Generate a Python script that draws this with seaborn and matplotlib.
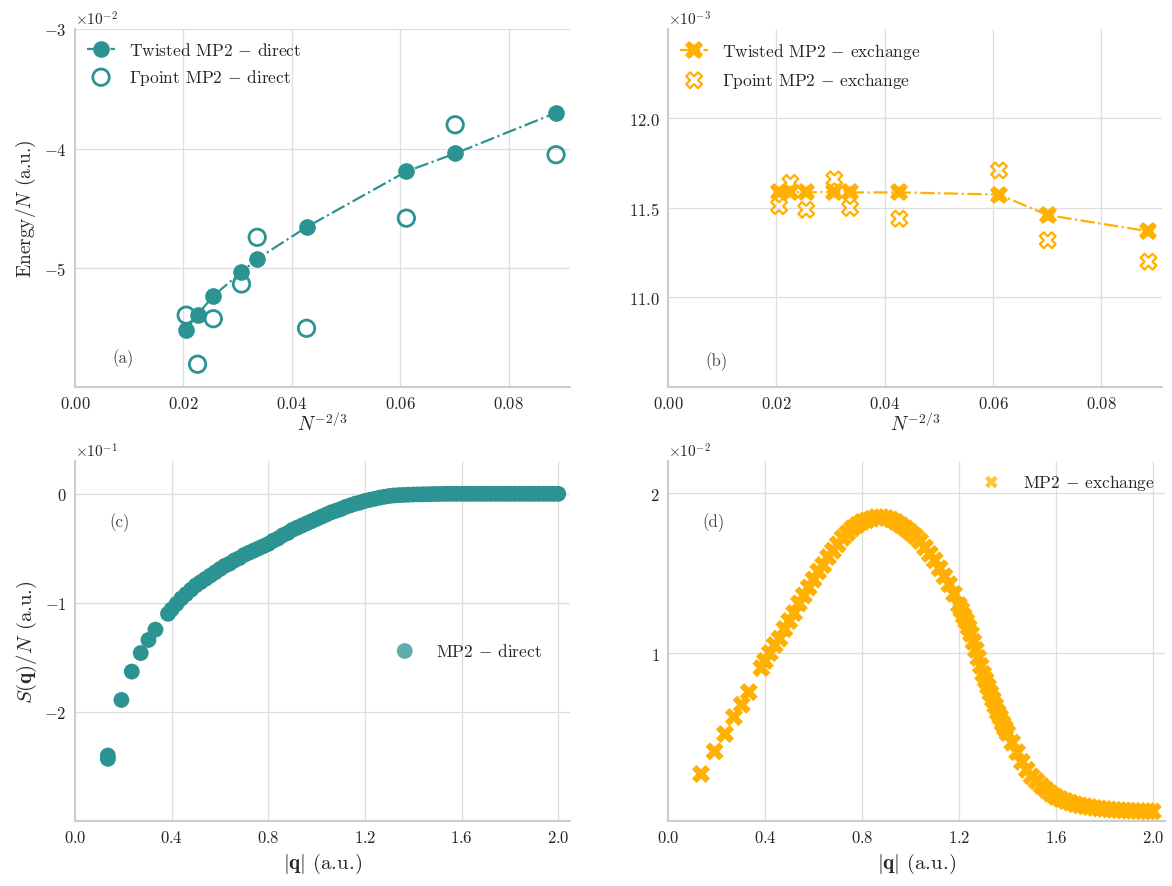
import numpy as np
import pandas as pd
import matplotlib
matplotlib.use("Agg")
import matplotlib.pyplot as plt
import seaborn as sns
from matplotlib.ticker import ScalarFormatter

# --- (a)/(b): N^{-2/3} vs energy per electron ---
n_inv = [0.0205, 0.0226, 0.0255, 0.0307, 0.0336, 0.0427, 0.0611, 0.0701, 0.0887]

# x 1e-2
twist_direct = [-5.51, -5.385, -5.23, -5.03, -4.92, -4.655, -4.19, -4.04, -3.70]
gamma_direct = [-5.39, -5.80, -5.42, -5.13, -4.74, -5.50, -4.58, -3.80, -4.05]

# x 1e-3
twist_exch = [11.587, 11.59, 11.587, 11.59, 11.587, 11.587, 11.575, 11.46, 11.37]
gamma_exch = [11.51, 11.64, 11.49, 11.66, 11.50, 11.44, 11.71, 11.32, 11.20]

# --- (c): S(q)/N direct, x 1e-1 ---
q_direct = [0.136, 0.136, 0.192, 0.235, 0.272, 0.304, 0.333, 0.385,
            0.40, 0.42, 0.44, 0.46, 0.48, 0.50, 0.52, 0.54, 0.56, 0.58,
            0.60, 0.62, 0.64, 0.66, 0.68, 0.70, 0.72, 0.74, 0.76, 0.78,
            0.80, 0.82, 0.84, 0.86, 0.88, 0.90, 0.92, 0.94, 0.96, 0.98,
            1.00, 1.02, 1.04, 1.06, 1.08, 1.10, 1.12, 1.14, 1.16, 1.18,
            1.20, 1.22, 1.24, 1.26, 1.28, 1.30, 1.32, 1.34, 1.36, 1.38,
            1.40, 1.42, 1.44, 1.46, 1.48, 1.50, 1.52, 1.54, 1.56, 1.58,
            1.60, 1.62, 1.64, 1.66, 1.68, 1.70, 1.72, 1.74, 1.76, 1.78,
            1.80, 1.82, 1.84, 1.86, 1.88, 1.90, 1.92, 1.94, 1.96, 1.98, 2.00]
sq_direct = [-2.43, -2.40, -1.89, -1.63, -1.46, -1.34, -1.245, -1.10,
             -1.06, -1.01, -0.96, -0.92, -0.88, -0.84, -0.81, -0.78, -0.75, -0.72,
             -0.69, -0.66, -0.64, -0.61, -0.59, -0.56, -0.54, -0.52, -0.50, -0.48,
             -0.46, -0.43, -0.41, -0.38, -0.36, -0.33, -0.31, -0.29, -0.27, -0.25,
             -0.23, -0.21, -0.19, -0.17, -0.155, -0.14, -0.12, -0.105, -0.09, -0.08,
             -0.065, -0.055, -0.045, -0.035, -0.027, -0.02, -0.015, -0.012, -0.01, -0.008,
             -0.006, -0.005, -0.004, -0.003, -0.002, -0.0015, -0.001, 0.0, 0.0, 0.0,
             0.0, 0.0, 0.0, 0.0, 0.0, 0.0, 0.0, 0.0, 0.0, 0.0,
             0.0, 0.0, 0.0, 0.0, 0.0, 0.0, 0.0, 0.0, 0.0, 0.0, 0.0]

# --- (d): S(q)/N exchange, x 1e-2 ---
q_exch = [0.136, 0.192, 0.235, 0.272, 0.304, 0.333, 0.385,
          0.40, 0.42, 0.44, 0.46, 0.48, 0.50, 0.52, 0.54, 0.56, 0.58,
          0.60, 0.62, 0.64, 0.66, 0.68, 0.70, 0.72, 0.74, 0.76, 0.78,
          0.80, 0.82, 0.84, 0.86, 0.88, 0.90, 0.92, 0.94, 0.96, 0.98,
          1.00, 1.02, 1.04, 1.06, 1.08, 1.10, 1.12, 1.14, 1.16, 1.18,
          1.20, 1.21, 1.22, 1.23, 1.24, 1.25, 1.26, 1.27, 1.28, 1.29,
          1.30, 1.31, 1.32, 1.33, 1.34, 1.35, 1.36, 1.37, 1.38, 1.39,
          1.40, 1.42, 1.44, 1.46, 1.48, 1.50, 1.52, 1.54, 1.56, 1.58,
          1.60, 1.62, 1.64, 1.66, 1.68, 1.70, 1.72, 1.74, 1.76, 1.78,
          1.80, 1.82, 1.84, 1.86, 1.88, 1.90, 1.92, 1.94, 1.96, 1.98, 2.00]
sq_exch = [0.244, 0.385, 0.494, 0.600, 0.677, 0.756, 0.906,
           0.95, 1.00, 1.05, 1.09, 1.15, 1.20, 1.25, 1.31, 1.36, 1.41,
           1.46, 1.51, 1.55, 1.60, 1.64, 1.68, 1.72, 1.75, 1.78, 1.80,
           1.82, 1.83, 1.84, 1.85, 1.85, 1.845, 1.835, 1.82, 1.80, 1.78,
           1.755, 1.73, 1.70, 1.66, 1.62, 1.58, 1.53, 1.48, 1.43, 1.37,
           1.30, 1.27, 1.23, 1.20, 1.16, 1.12, 1.07, 1.02, 0.97, 0.92,
           0.87, 0.83, 0.79, 0.75, 0.71, 0.67, 0.63, 0.60, 0.56, 0.53,
           0.50, 0.44, 0.38, 0.32, 0.27, 0.23, 0.20, 0.17, 0.145, 0.12,
           0.10, 0.087, 0.075, 0.065, 0.055, 0.048, 0.042, 0.037, 0.032, 0.028,
           0.025, 0.022, 0.020, 0.018, 0.016, 0.014, 0.013, 0.012, 0.011, 0.0105, 0.010]

teal = "#2b9391"
amber = "#ffb000"

sns.set_theme(style="whitegrid")
plt.rcParams["font.family"] = "serif"
plt.rcParams["font.serif"] = ["cmr10", "DejaVu Serif"]
plt.rcParams["mathtext.fontset"] = "cm"
plt.rcParams["axes.formatter.use_mathtext"] = True
plt.rcParams["axes.unicode_minus"] = True

df_a = pd.DataFrame({"x": n_inv,
                     "tw": np.array(twist_direct) * 1e-2,
                     "gp": np.array(gamma_direct) * 1e-2})
df_b = pd.DataFrame({"x": n_inv,
                     "tw": np.array(twist_exch) * 1e-3,
                     "gp": np.array(gamma_exch) * 1e-3})
df_c = pd.DataFrame({"q": q_direct, "s": np.array(sq_direct) * 1e-1})
df_d = pd.DataFrame({"q": q_exch, "s": np.array(sq_exch) * 1e-2})

fig = plt.figure(figsize=(11.72, 8.87), dpi=100)
ax_a = fig.add_axes([0.064, 0.5626, 0.422, 0.4036])
ax_b = fig.add_axes([0.570, 0.5626, 0.4215, 0.4036])
ax_c = fig.add_axes([0.064, 0.0733, 0.422, 0.4057])
ax_d = fig.add_axes([0.570, 0.0733, 0.4240, 0.4057])

tick_fs = 12
lab_fs = 14

def fmt_y(ax, order):
    f = ScalarFormatter(useMathText=True)
    f.set_powerlimits((order, order))
    ax.yaxis.set_major_formatter(f)
    ax.yaxis.get_offset_text().set_fontsize(11)

# (a)
sns.lineplot(data=df_a, x="x", y="tw", ax=ax_a, color=teal, linestyle="-.",
             marker="o", markersize=12, markeredgewidth=0, linewidth=1.6,
             label=r"Twisted MP2 $-$ direct")
sns.scatterplot(data=df_a, x="x", y="gp", ax=ax_a, color=teal, marker="o",
                s=140, facecolors="none", edgecolor=teal, linewidth=2,
                label=r"$\Gamma$point MP2 $-$ direct")
ax_a.set_xlim(0, 0.0912)
ax_a.set_ylim(-0.0599, -0.03)
ax_a.set_xticks([0.0, 0.02, 0.04, 0.06, 0.08])
ax_a.set_yticks([-0.05, -0.04, -0.03])
fmt_y(ax_a, -2)
ax_a.set_xlabel(r"$N^{-2/3}$", fontsize=lab_fs, labelpad=0)
ax_a.set_ylabel(r"Energy/$N$ (a.u.)", fontsize=lab_fs)
ax_a.text(0.075, 0.07, "(a)", transform=ax_a.transAxes, fontsize=12, color="#444444")
ax_a.legend(loc="upper left", frameon=False, fontsize=12.5, handlelength=1.6,
            borderaxespad=0.3)

# (b)
sns.lineplot(data=df_b, x="x", y="tw", ax=ax_b, color=amber, linestyle="-.",
             marker="X", markersize=13, markeredgewidth=0, linewidth=1.6,
             label=r"Twisted MP2 $-$ exchange")
sns.scatterplot(data=df_b, x="x", y="gp", ax=ax_b, color=amber, marker="X",
                s=130, facecolors="none", edgecolor=amber, linewidth=1.6,
                label=r"$\Gamma$point MP2 $-$ exchange")
ax_b.set_xlim(0, 0.0912)
ax_b.set_ylim(0.0105, 0.0125)
ax_b.set_xticks([0.0, 0.02, 0.04, 0.06, 0.08])
ax_b.set_yticks([0.011, 0.0115, 0.012])
fmt_y(ax_b, -3)
ax_b.set_xlabel(r"$N^{-2/3}$", fontsize=lab_fs, labelpad=0)
ax_b.set_ylabel("")
ax_b.text(0.075, 0.06, "(b)", transform=ax_b.transAxes, fontsize=12, color="#444444")
ax_b.legend(loc="upper left", frameon=False, fontsize=12.5, handlelength=1.6,
            borderaxespad=0.3)

# (c)
sns.scatterplot(data=df_c, x="q", y="s", ax=ax_c, color=teal, s=130,
                edgecolor="none", label=r"MP2 $-$ direct")
ax_c.set_xlim(0, 2.047)
ax_c.set_ylim(-0.3, 0.03)
ax_c.set_xticks([0.0, 0.4, 0.8, 1.2, 1.6, 2.0])
ax_c.set_yticks([-0.2, -0.1, 0.0])
fmt_y(ax_c, -1)
ax_c.set_xlabel(r"$|\mathbf{q}|$ (a.u.)", fontsize=15)
ax_c.set_ylabel(r"$S(\mathbf{q})/N$ (a.u.)", fontsize=15)
ax_c.text(0.07, 0.82, "(c)", transform=ax_c.transAxes, fontsize=12, color="#444444")
leg_c = ax_c.legend(loc="center left", bbox_to_anchor=(0.6, 0.475), frameon=False,
                    fontsize=12.5)
for h in leg_c.legend_handles:
    h.set_alpha(0.75)

# (d)
sns.scatterplot(data=df_d, x="q", y="s", ax=ax_d, color=amber, marker="X", s=170,
                edgecolor="none", label=r"MP2 $-$ exchange")
ax_d.set_xlim(0, 2.05)
ax_d.set_ylim(-0.0005, 0.022)
ax_d.set_xticks([0.0, 0.4, 0.8, 1.2, 1.6, 2.0])
ax_d.set_yticks([0.01, 0.02])
fmt_y(ax_d, -2)
ax_d.set_xlabel(r"$|\mathbf{q}|$ (a.u.)", fontsize=15)
ax_d.set_ylabel("")
ax_d.text(0.07, 0.82, "(d)", transform=ax_d.transAxes, fontsize=12, color="#444444")
leg_d = ax_d.legend(loc="upper right", frameon=False, fontsize=12.5, borderaxespad=0.2,
                    markerscale=0.7)
for h in leg_d.legend_handles:
    h.set_alpha(0.75)

for ax in (ax_a, ax_b, ax_c, ax_d):
    sns.despine(ax=ax)
    ax.tick_params(labelsize=tick_fs, length=0, pad=6)
    ax.grid(True, color="#dddddd", linewidth=0.9)
    for sp in ("left", "bottom"):
        ax.spines[sp].set_color("#cccccc")
        ax.spines[sp].set_linewidth(1.5)

fig.savefig("out.png", dpi=100)
